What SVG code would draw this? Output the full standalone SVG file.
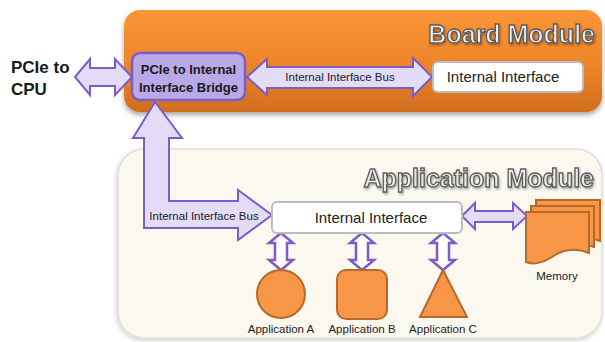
<svg xmlns="http://www.w3.org/2000/svg" width="605" height="342" viewBox="0 0 605 342">
  <defs>
    <linearGradient id="boardFill" x1="0" y1="0" x2="0" y2="1">
      <stop offset="0" stop-color="#FA9636"/>
      <stop offset="0.55" stop-color="#EE8429"/>
      <stop offset="1" stop-color="#D06E1E"/>
    </linearGradient>
    <filter id="softShadow" x="-10%" y="-10%" width="120%" height="130%">
      <feDropShadow dx="0" dy="3" stdDeviation="2.5" flood-color="#000" flood-opacity="0.35"/>
    </filter>
    <filter id="paleShadow" x="-10%" y="-10%" width="120%" height="130%">
      <feDropShadow dx="-1" dy="2" stdDeviation="2" flood-color="#000" flood-opacity="0.18"/>
    </filter>
    <filter id="titleShadow" x="-5%" y="-20%" width="110%" height="150%">
      <feDropShadow dx="1" dy="1.5" stdDeviation="0.8" flood-color="#000" flood-opacity="0.35"/>
    </filter>
  </defs>
  <style>
    text { font-family: "Liberation Sans", Arial, sans-serif; fill: #1a1a1a; }
    .title { font-size: 25px; font-weight: bold; fill: #EDEDED; stroke: #5C5C5C; stroke-width: 1.3; text-anchor: end; }
    .bus { fill: #E2DCF6; stroke: #7C5CC9; stroke-width: 2; stroke-linejoin: miter; }
    .link { fill: #FFFFFF; stroke: #7C5CC9; stroke-width: 2.5; stroke-linejoin: miter; }
    .iface { fill: #FFFFFF; stroke: #BDBDBD; stroke-width: 2; }
    .iface-label { font-size: 15px; text-anchor: middle; fill: #222; }
    .bus-label { font-size: 11.5px; text-anchor: middle; fill: #222; }
    .app { fill: #F79646; stroke: #B8692A; stroke-width: 2; }
    .small { font-size: 11.5px; text-anchor: middle; fill: #222; }
    .bold { font-weight: bold; }
  </style>

  <!-- module backgrounds -->
  <g id="board-module">
    <rect x="124" y="10" width="478" height="102" rx="16" fill="url(#boardFill)" filter="url(#softShadow)"/>
    <text class="title" x="595" y="43" filter="url(#titleShadow)">Board Module</text>
  </g>

  <g id="application-module">
    <rect x="118" y="149" width="484" height="189" rx="26" fill="#FAF8EF" stroke="#E2DFD3" stroke-width="1.5" filter="url(#paleShadow)"/>
    <text class="title" x="594" y="187" filter="url(#titleShadow)">Application Module</text>
  </g>

  <!-- connectors -->
  <g id="connectors">
    <!-- PCIe to CPU link -->
    <polygon class="bus" points="75,77 90,59 90,68 115,68 115,59 132,77 115,95 115,86 90,86 90,95"/>
    <!-- board internal interface bus -->
    <polygon class="bus" points="247,77 267,59 267,67 413,67 413,58 432,77 413,96 413,88 267,88 267,95"/>
    <text class="bus-label" x="340" y="81">Internal Interface Bus</text>
    <!-- bridge down to application module -->
    <polygon class="bus" points="155,102 182,138 169,138 169,201 238,201 238,190 272,215 238,240 238,228 144,228 144,138 133,138"/>
    <text class="bus-label" x="204" y="220">Internal Interface Bus</text>
    <!-- application interface to memory -->
    <polygon class="bus" points="462,216 475,203 475,211 513,211 513,203 527,216 513,229 513,222 475,222 475,229"/>
    <!-- application interface to applications -->
    <polygon class="link" points="281,233 293,243 287,243 287,260 293,260 281,270 269,260 275,260 275,243 269,243"/>
    <polygon class="link" points="362,233 374,243 368,243 368,260 374,260 362,270 350,260 356,260 356,243 350,243"/>
    <polygon class="link" points="443,233 455,243 449,243 449,260 455,260 443,270 431,260 437,260 437,243 431,243"/>
  </g>

  <!-- nodes -->
  <g id="pcie-cpu">
    <text class="bold" x="11" y="73" font-size="17">PCIe to</text>
    <text class="bold" x="11" y="95" font-size="17">CPU</text>
  </g>

  <g id="bridge">
    <rect x="132" y="53" width="113" height="47" rx="8" fill="#B9A9E8" stroke="#7C5CC9" stroke-width="2.5"/>
    <text class="bold" x="188.5" y="74" font-size="13" text-anchor="middle">PCIe to Internal</text>
    <text class="bold" x="188.5" y="92" font-size="13" text-anchor="middle">Interface Bridge</text>
  </g>

  <g id="board-interface">
    <rect class="iface" x="433" y="62" width="150" height="30" rx="5"/>
    <text class="iface-label" x="503" y="82" font-size="14.5">Internal Interface</text>
  </g>

  <g id="app-interface">
    <rect class="iface" x="272" y="202" width="190" height="31" rx="5"/>
    <text class="iface-label" x="371" y="223">Internal Interface</text>
  </g>

  <g id="application-a">
    <circle class="app" cx="281" cy="294" r="24"/>
    <text class="small" x="281" y="333">Application A</text>
  </g>

  <g id="application-b">
    <rect class="app" x="337" y="270" width="50" height="49" rx="9"/>
    <text class="small" x="362" y="333">Application B</text>
  </g>

  <g id="application-c">
    <polygon class="app" points="443,270 467,317 420,317"/>
    <text class="small" x="443" y="333">Application C</text>
  </g>

  <g id="memory">
    <path class="app" d="M536,200 H600 V241 C586,235 573,238 562,245 C553,251 543,253 536,250 Z"/>
    <path class="app" d="M531,206 H594 V247 C580,241 567,244 557,251 C548,257 538,259 531,256 Z"/>
    <path class="app" d="M526,212 H589 V253 C575,247 562,250 552,257 C543,263 533,265 526,262 Z"/>
    <text class="small" x="557" y="280" font-size="11">Memory</text>
  </g>
</svg>
